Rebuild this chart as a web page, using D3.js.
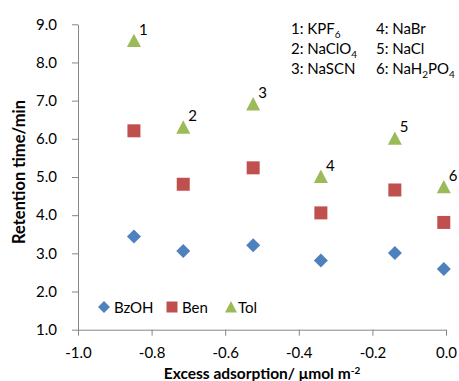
<!DOCTYPE html>
<html><head><meta charset="utf-8">
<script src="https://cdn.jsdelivr.net/npm/d3@7"></script>
<style>body{margin:0;background:#fff}svg{display:block}text{font-family:Lato,"Open Sans",sans-serif}</style>
</head><body><svg id="c" width="459" height="381"></svg>
<script>
const xVals = [-0.848, -0.714, -0.524, -0.340, -0.139, -0.006];
const bzoh = [3.44, 3.06, 3.21, 2.81, 3.01, 2.59];
const ben = [6.21, 4.81, 5.24, 4.06, 4.66, 3.81];
const tol = [8.57, 6.30, 6.91, 5.01, 6.01, 4.74];
const pointLabels = ["1", "2", "3", "4", "5", "6"];
const xTicks = [-1.0, -0.8, -0.6, -0.4, -0.2, 0.0];
const yTicks = [1, 2, 3, 4, 5, 6, 7, 8, 9];
const seriesNames = ["BzOH", "Ben", "Tol"];
const colors = ["#4F81BD", "#C0504D", "#9BBB59"];
const ionCol1 = [["1: KPF","6"],["2: NaClO","4"],["3: NaSCN"]];
const ionCol2 = [["4: NaBr"],["5: NaCl"],["6: NaH","2","PO","4"]];

const svg = d3.select("#c");
const x = d3.scaleLinear().domain([-1, 0]).range([78, 446]);
const y = d3.scaleLinear().domain([1, 9]).range([329.7, 24.3]);
const axCol = "#868686";

const fmt = d => d3.format(".1f")(d).replace("−","-");
const xa = svg.append("g").attr("transform","translate(0,329.7)")
  .call(d3.axisBottom(x).tickValues(xTicks).tickFormat(fmt).tickSize(6).tickSizeOuter(0));
const ya = svg.append("g").attr("transform","translate(78,0)")
  .call(d3.axisLeft(y).tickValues(yTicks).tickFormat(fmt).tickSize(6).tickSizeOuter(0));
[xa, ya].forEach(g => {
  g.selectAll("path,line").attr("stroke", axCol);
  g.selectAll("text").attr("fill","#000").style("font-size","15px").style("font-family","Lato,sans-serif");
});
xa.selectAll("text").attr("y",13).attr("dy","1em");
xa.selectAll(".tick text").text(d => d === 0 ? "0.0" : fmt(d));
ya.selectAll("text").attr("x",-21);

// axis titles
svg.append("text").attr("x",262).attr("y",379).attr("text-anchor","middle")
  .style("font-size","15.5px").style("font-weight","bold")
  .html('Excess adsorption/ μmol m<tspan dy="-5" font-size="10">-2</tspan>');
svg.append("text").attr("transform","translate(25,172) rotate(-90)").attr("text-anchor","middle")
  .style("font-size","16.5px").style("font-weight","bold").text("Retention time/min");

// marker shapes
const diamond = s => `M0,${-s}L${s},0L0,${s}L${-s},0Z`;
const square = s => `M${-s},${-s}H${s}V${s}H${-s}Z`;
const triangle = s => `M0,${-s}L${s},${s*0.9}L${-s},${s*0.9}Z`;
const shapes = [diamond(7), square(6.5), triangle(7)];
const shapesLeg = [diamond(6), square(5.5), triangle(6)];
const data = [bzoh, ben, tol];
data.forEach((arr, si) => {
  svg.append("g").selectAll("path").data(arr).join("path")
    .attr("d", shapes[si])
    .attr("transform", (d,i) => `translate(${x(xVals[i])},${y(d)})`)
    .attr("fill", colors[si]);
});
// point labels
svg.append("g").selectAll("text").data(tol).join("text")
  .attr("x",(d,i)=>x(xVals[i])+5).attr("y",(d,i)=>y(d)-6)
  .style("font-size","15px").text((d,i)=>pointLabels[i]);

// legend
const legX = [104, 172, 231];
seriesNames.forEach((n,i) => {
  svg.append("path").attr("d", shapesLeg[i])
    .attr("transform",`translate(${legX[i]},307)`).attr("fill",colors[i]);
  svg.append("text").attr("x",legX[i]+(i===2?7:10)).attr("y",312.5).style("font-size","15px").text(n);
});

// ion list
function ionText(col, x0) {
  col.forEach((parts, r) => {
    const t = svg.append("text").attr("x",x0).attr("y",34+r*20).style("font-size","15px");
    parts.forEach((p, k) => {
      const sub = k % 2 === 1;
      t.append("tspan").attr("dy", sub ? 4 : (k>0 ? -4 : 0)).style("font-size", sub ? "10px" : "15px").text(p);
    });
  });
}
ionText(ionCol1, 291);
ionText(ionCol2, 376);
</script></body></html>
